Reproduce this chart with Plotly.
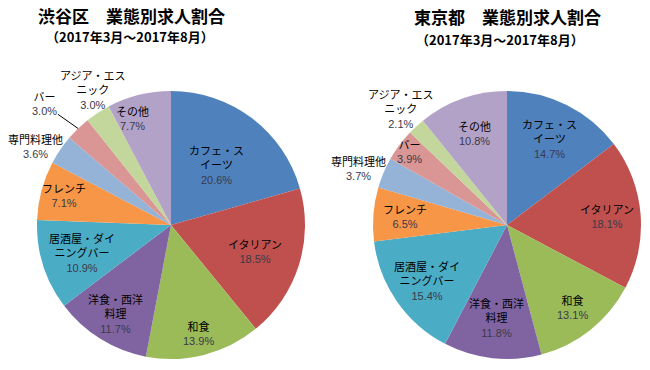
import math
import plotly.graph_objects as go

W, H = 650, 370

categories = ["カフェ・スイーツ", "イタリアン", "和食", "洋食・西洋料理", "居酒屋・ダイニングバー",
              "フレンチ", "専門料理他", "バー", "アジア・エスニック", "その他"]
label_text = ["カフェ・ス<br>イーツ", "イタリアン", "和食", "洋食・西洋<br>料理", "居酒屋・ダイ<br>ニングバー",
              "フレンチ", "専門料理他", "バー", "アジア・エス<br>ニック", "その他"]
shibuya_values = [20.6, 18.5, 13.9, 11.7, 10.9, 7.1, 3.6, 3.0, 3.0, 7.7]
tokyo_values = [14.7, 18.1, 13.1, 11.8, 15.4, 6.5, 3.7, 3.9, 2.1, 10.8]

colors = ["#4F81BD", "#C0504D", "#9BBB59", "#8064A2", "#4BACC6",
          "#F79646", "#95B3D7", "#D99694", "#C3D69B", "#B3A2C7"]

# label placement (style): radial fraction of radius and angular nudge in degrees
left_rad = [0.56, 0.66, 0.84, 0.78, 0.70, 0.83, 1.17, None, 1.16, 0.84]
left_ang = [0, 0, 0, 0, 0, 0, -4, 0, 3, -6]
right_rad = [0.71, 0.75, 0.79, 0.70, 0.73, 0.76, 1.19, 0.91, 1.17, 0.72]
right_ang = [0, 0, 0, 0, 0, 0, -2, 0, 0, 0]


def px_x(x):
    return x / W


def px_y(y):
    return (H - y) / H


left_dom = dict(x=[px_x(37), px_x(305)], y=[px_y(359), px_y(91)])
right_dom = dict(x=[px_x(373), px_x(641)], y=[px_y(359), px_y(91)])

fig = go.Figure()
for vals, dom in [(shibuya_values, left_dom), (tokyo_values, right_dom)]:
    fig.add_trace(go.Pie(
        values=vals, labels=categories, sort=False, direction="clockwise", rotation=0,
        marker=dict(colors=colors, line=dict(width=0)), textinfo="none",
        domain=dom, showlegend=False, hole=0,
    ))

FONT = "Liberation Sans, Arial, Noto Sans CJK JP"


def add_labels(vals, dom, rads, angs, arrow_idx=None, arrow_off=(0, 0)):
    cx = (dom["x"][0] + dom["x"][1]) / 2 * W
    cy = H - (dom["y"][0] + dom["y"][1]) / 2 * H
    r = min((dom["x"][1] - dom["x"][0]) * W, (dom["y"][1] - dom["y"][0]) * H) / 2
    total = sum(vals)
    cum = 0.0
    for i, v in enumerate(vals):
        mid = (cum + v / 2) / total * 2 * math.pi
        cum += v
        txt = "<span style='color:#000'>%s</span><br><span style='color:#3a3a4a'>%.1f%%</span>" % (label_text[i], v)
        if i == arrow_idx:
            px = cx + r * math.sin(mid)
            py = cy - r * math.cos(mid)
            fig.add_annotation(x=px / W, y=(H - py) / H, xref="paper", yref="paper",
                               text=txt, showarrow=True, arrowhead=0, arrowwidth=1,
                               arrowcolor="#000", ax=arrow_off[0], ay=arrow_off[1],
                               font=dict(family=FONT, size=11), align="center",
                               standoff=0, startstandoff=0)
            continue
        a = mid + math.radians(angs[i])
        d = rads[i] * r
        px = cx + d * math.sin(a)
        py = cy - d * math.cos(a)
        fig.add_annotation(x=px / W, y=(H - py) / H, xref="paper", yref="paper",
                           text=txt, showarrow=False, xanchor="center", yanchor="middle",
                           font=dict(family=FONT, size=11), align="center")


add_labels(shibuya_values, left_dom, left_rad, left_ang, arrow_idx=7, arrow_off=(-34, -24))
add_labels(tokyo_values, right_dom, right_rad, right_ang)

TFONT = "Noto Sans CJK JP"
titles = [
    ("<b>渋谷区　業態別求人割合</b>", 131, 15, 17),
    ("<b>（2017年3月～2017年8月）</b>", 130, 37, 13),
    ("<b>東京都　業態別求人割合</b>", 507, 17, 17),
    ("<b>（2017年3月～2017年8月）</b>", 500, 39, 13),
]
for t, x, y, s in titles:
    fig.add_annotation(x=px_x(x), y=px_y(y), xref="paper", yref="paper", text=t,
                       showarrow=False, xanchor="center", yanchor="middle", borderpad=0,
                       font=dict(family=TFONT, size=s, color="#000"))

fig.update_layout(width=W, height=H, margin=dict(l=0, r=0, t=0, b=0),
                  paper_bgcolor="white", plot_bgcolor="white")
fig.write_html("out.html", config={"displayModeBar": False},
               post_script="document.body.style.margin='0';document.body.style.padding='0';")
